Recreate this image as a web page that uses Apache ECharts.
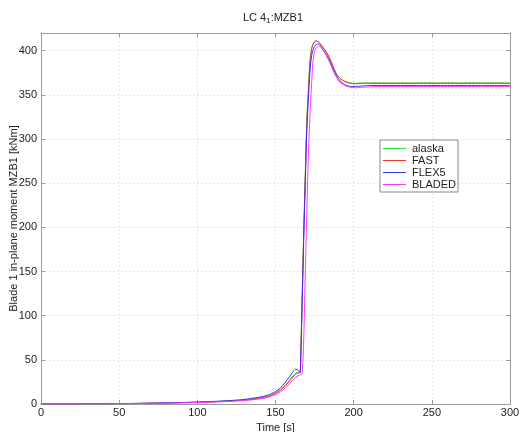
<!DOCTYPE html>
<html>
<head>
<meta charset="utf-8">
<script src="https://cdn.jsdelivr.net/npm/echarts@6/dist/echarts.min.js"></script>
<style>
  html, body { margin: 0; padding: 0; background: #fff; }
  #chart { width: 521px; height: 432px; }
</style>
</head>
<body>
<div id="chart"></div>
<script>
// Simulation time [s]
const timeS = [0, 20, 40, 60, 80, 100, 110, 120, 130, 140, 145, 150, 153, 156, 159, 161, 163, 164.5, 165.7,
  166.2, 167, 168, 169, 170, 171, 172, 173, 174, 175, 176, 177, 178, 179, 180, 182, 184, 186, 188, 190,
  192, 195, 198, 201, 205, 210, 220, 240, 260, 280, 300];

// Blade 1 in-plane moment MZB1 [kNm] per code
const alaska = [0, 0.1, 0.3, 0.6, 1.2, 2, 2.6, 3.4, 4.6, 6.8, 8.8, 12.5, 16, 21, 27, 31.5, 35, 35.5, 35,
  62, 118, 193, 258, 320, 355, 387, 402, 408, 410.5, 411, 410.5, 409, 406.5, 404.5, 399.5, 393.5, 385.5, 377, 371,
  367.5, 365, 363.5, 363, 363.5, 363.5, 363.5, 363.5, 363.5, 363.5, 363.5];
const fast = [0, 0.1, 0.3, 0.6, 1.1, 1.9, 2.5, 3.3, 4.4, 6.5, 8.4, 12, 15.5, 20, 26, 30, 34, 35.5, 35.5,
  58, 114, 189, 254, 317, 352, 385, 401, 407, 410, 411, 410.5, 409.5, 407, 405, 400, 394, 386, 377, 371,
  367.5, 364.5, 363, 362.5, 363, 363, 363, 363, 363, 363, 363];
const flex5 = [0, 0.1, 0.3, 0.7, 1.3, 2.2, 2.9, 3.8, 5.2, 7.8, 10, 14, 18, 24, 31, 36, 39.5, 38, 36,
  55, 108, 183, 248, 308, 345, 376, 393, 401, 405, 407, 407.5, 407, 405, 402, 397, 391, 383, 375, 368.5,
  364.5, 361, 359.5, 359.5, 360, 360.5, 360.5, 360.5, 360.5, 360.5, 360.5];
const bladed = [0, 0.05, 0.2, 0.5, 1, 1.7, 2.2, 2.9, 3.9, 5.8, 7.5, 10.5, 13.5, 17.5, 23, 27, 30.5, 32, 33,
  33.5, 34, 70, 145, 215, 280, 325, 360, 388, 399, 403, 404.5, 405, 404, 401.5, 396, 389, 381, 373, 367,
  363, 360, 358.5, 358, 358.5, 359, 359.5, 359.5, 359.5, 359.5, 359.5];

const seriesNames = ['alaska', 'FAST', 'FLEX5', 'BLADED'];
const seriesValues = [alaska, fast, flex5, bladed];
const seriesColors = ['#33dd33', '#ee3333', '#3333ee', '#ff33ff'];

const xTicks = { min: 0, max: 300, interval: 50 };
const yTicks = { min: 0, max: 420, interval: 50 };

const font = 'Liberation Sans, Arial, sans-serif';
const frame = '#9a9a9a';
const grid = '#e8e8e8';

const chart = echarts.init(document.getElementById('chart'));

function axisBase(extra) {
  return Object.assign({
    type: 'value',
    axisLine: { show: true, onZero: false, lineStyle: { color: frame, width: 1 } },
    axisTick: { show: true, inside: true, length: 4, lineStyle: { color: frame } },
  }, extra);
}

chart.setOption({
  backgroundColor: '#fff',
  animation: false,
  title: {
    text: '{n|LC 4}{s|1}{n|:MZB1}',
    left: 268, top: 6, textAlign: 'center',
    textStyle: {
      fontWeight: 'normal',
      rich: {
        n: { fontFamily: font, fontSize: 11, fontWeight: 'normal', color: '#222' },
        s: { fontFamily: font, fontSize: 8, fontWeight: 'normal', color: '#222', verticalAlign: 'bottom', padding: [6, 0, 0, 0] }
      }
    }
  },
  grid: { left: 41, right: 11, top: 33, bottom: 28, containLabel: false, outerBoundsMode: 'none' },
  legend: {
    orient: 'vertical',
    left: 380, top: 140,
    data: seriesNames,
    itemWidth: 23, itemHeight: 1, itemGap: 1,
    icon: 'rect',
    backgroundColor: '#fff',
    borderColor: '#888', borderWidth: 1, borderRadius: 0,
    padding: [3, 2, 2, 3],
    textStyle: { fontFamily: font, fontSize: 11, lineHeight: 11, color: '#222', padding: [0, 0, 0, 1] }
  },
  xAxis: [
    axisBase({
      position: 'bottom',
      min: xTicks.min, max: xTicks.max, interval: xTicks.interval,
      name: 'Time [s]', nameLocation: 'middle', nameGap: 15,
      nameTextStyle: { fontFamily: font, fontSize: 11, color: '#222' },
      axisLabel: { fontFamily: font, fontSize: 11, color: '#222', margin: 3 },
      splitLine: { show: true, lineStyle: { color: grid, type: [2, 2] } }
    }),
    axisBase({
      position: 'top',
      min: xTicks.min, max: xTicks.max, interval: xTicks.interval,
      axisLabel: { show: false },
      splitLine: { show: false }
    })
  ],
  yAxis: [
    axisBase({
      position: 'left',
      min: yTicks.min, max: yTicks.max, interval: yTicks.interval,
      name: 'Blade 1 in-plane moment MZB1 [kNm]', nameLocation: 'middle', nameGap: 22,
      nameMoveOverlap: false,
      nameTextStyle: { fontFamily: font, fontSize: 11, color: '#222' },
      axisLabel: { fontFamily: font, fontSize: 11, color: '#222', margin: 4, showMaxLabel: false },
      splitLine: { show: true, lineStyle: { color: grid, type: [2, 2] } }
    }),
    axisBase({
      position: 'right',
      min: yTicks.min, max: yTicks.max, interval: yTicks.interval,
      axisLabel: { show: false },
      splitLine: { show: false }
    })
  ],
  series: seriesNames.map((name, i) => ({
    name: name,
    type: 'line',
    data: timeS.map((t, k) => [t, seriesValues[i][k]]),
    showSymbol: false,
    symbol: 'none',
    smooth: 0.25,
    color: seriesColors[i],
    lineStyle: { width: 1, color: seriesColors[i] },
    z: 2 + i
  }))
});
</script>
</body>
</html>
